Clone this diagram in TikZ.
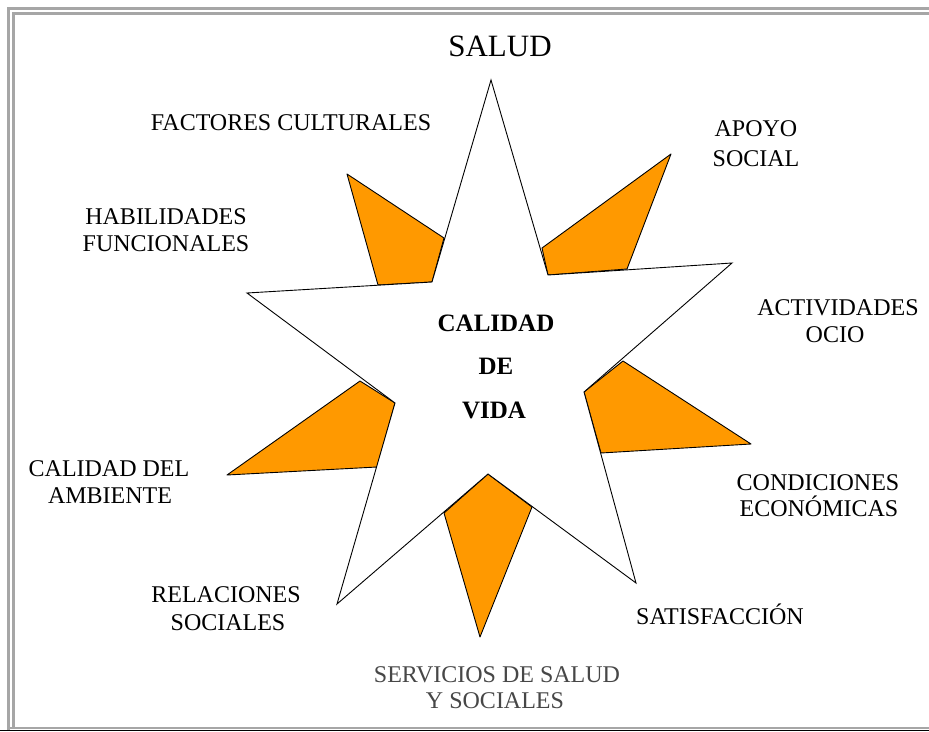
\documentclass[tikz,border=0pt]{standalone}
\usepackage{fontspec}
\setmainfont{Liberation Serif}
\definecolor{orangefill}{HTML}{FF9900}
\definecolor{framegray}{HTML}{A6A6A6}
\begin{document}
\begin{tikzpicture}[x=1pt,y=-1pt,
  petal/.style={fill=orangefill,draw=black,line width=0.9pt,line join=round},
  starshape/.style={fill=white,draw=black,line width=0.9pt},
  framerule/.style={draw=framegray,line width=3pt},
  lbl/.style={anchor=base,inner sep=0pt,font=\fontsize{24}{28}\selectfont},
  biglbl/.style={anchor=base,inner sep=0pt,font=\fontsize{31}{36}\selectfont},
  centerlbl/.style={anchor=base,inner sep=0pt,font=\fontsize{25}{30}\selectfont\bfseries},
  graylbl/.style={lbl,text=black!72}]
\useasboundingbox (0,0) rectangle (929,731);
\fill[white] (0,0) rectangle (929,731);
% frame
\draw[framerule] (8.5,731) -- (8.5,8.5) -- (929,8.5);
\draw[framerule] (13.5,727) -- (13.5,13.5) -- (929,13.5);
\draw[draw=framegray,line width=2pt] (8.5,728) -- (929,728);
\draw[draw=black,line width=1.2pt] (0,730.4) -- (929,730.4);
% star coordinates
\coordinate (T) at (491,80);
\coordinate (TRi) at (548,275);
\coordinate (R) at (732,263);
\coordinate (Ri) at (584,392);
\coordinate (BR) at (636,583);
\coordinate (Bi) at (488,474);
\coordinate (BL) at (337,604);
\coordinate (Li) at (395,403);
\coordinate (L) at (247,293);
\coordinate (TLi) at (432,282);
% orange petals
\draw[petal] (347,174) -- (444,238) -- (TLi) -- (378,285) -- cycle;
\draw[petal] (542,248) -- (671,154) -- (627,269) -- (TRi) -- cycle;
\draw[petal] (623,361) -- (751,444) -- (601,453) -- (Ri) -- cycle;
\draw[petal] (360,381) -- (227,475) -- (377,467) -- (Li) -- cycle;
\draw[petal] (444,513) -- (480,637) -- (532,507) -- (Bi) -- cycle;
% star
\draw[starshape] (T) -- (TRi) -- (R) -- (Ri) -- (BR) -- (Bi) -- (BL) -- (Li) -- (L) -- (TLi) -- cycle;
% labels
\node[biglbl] (salud) at (500,56) {SALUD};
\node[lbl] (factores) at (291,130) {FACTORES CULTURALES};
\node[lbl] (apoyo1) at (756,136) {APOYO};
\node[lbl] (apoyo2) at (756,166) {SOCIAL};
\node[lbl] (habil1) at (166,224) {HABILIDADES};
\node[lbl] (habil2) at (166,251) {FUNCIONALES};
\node[lbl] (activ1) at (838,315) {ACTIVIDADES};
\node[lbl] (activ2) at (835,342) {OCIO};
\node[centerlbl] (cv1) at (496,331) {CALIDAD};
\node[centerlbl] (cv2) at (496,374) {DE};
\node[centerlbl] (cv3) at (494,418) {VIDA};
\node[lbl] (amb1) at (109,476) {CALIDAD DEL};
\node[lbl] (amb2) at (110,503) {AMBIENTE};
\node[lbl] (cond1) at (818,490) {CONDICIONES};
\node[lbl] (cond2) at (819,516) {ECONÓMICAS};
\node[lbl] (rel1) at (226,602) {RELACIONES};
\node[lbl] (rel2) at (228,630) {SOCIALES};
\node[lbl] (satis) at (720,624) {SATISFACCIÓN};
\node[graylbl] (serv1) at (497,682) {SERVICIOS DE SALUD};
\node[graylbl] (serv2) at (495,708) {Y SOCIALES};
\end{tikzpicture}
\end{document}
